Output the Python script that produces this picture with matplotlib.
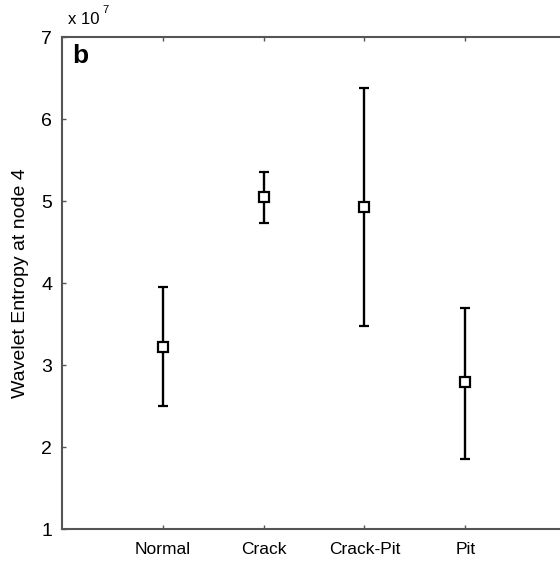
import matplotlib
matplotlib.use('Agg')
import matplotlib.pyplot as plt

plt.rcParams['font.family'] = ['Liberation Sans', 'DejaVu Sans']

# Дані (значення в одиницях 1e7)
categories = ['Normal', 'Crack', 'Crack-Pit', 'Pit']
mean_vals = [3.22, 5.05, 4.93, 2.79]
upper_vals = [3.95, 5.35, 6.38, 3.70]
lower_vals = [2.50, 4.73, 3.48, 1.85]
y_ticks = [1, 2, 3, 4, 5, 6, 7]

x_pos = list(range(1, len(categories) + 1))
err_low = [m - l for m, l in zip(mean_vals, lower_vals)]
err_high = [u - m for m, u in zip(mean_vals, upper_vals)]

fig = plt.figure(figsize=(5.6, 5.64), dpi=100)
# права межа осей виходить за край полотна, як у обрізаному оригіналі
ax = fig.add_axes([62/560, 35/564, 504/560, 492/564])

ax.errorbar(x_pos, mean_vals, yerr=[err_low, err_high], fmt='s',
            color='black', ecolor='black', elinewidth=1.7, capsize=3.5,
            capthick=1.7, markersize=7.5, markerfacecolor='white',
            markeredgecolor='black', markeredgewidth=1.6)

ax.set_xlim(0, 5)
ax.set_ylim(1, 7)
ax.set_xticks(x_pos)
ax.set_xticklabels(categories, fontsize=12.5)
ax.set_yticks(y_ticks)
ax.set_yticklabels([str(t) for t in y_ticks], fontsize=14)
ax.tick_params(direction='in', length=3, width=1, color='#555555',
               top=True, right=True, pad=7)
ax.tick_params(axis='x', pad=9)

for s in ax.spines.values():
    s.set_color('#555555')
    s.set_linewidth(1.5)

ax.set_ylabel('Wavelet Entropy at node 4', fontsize=14, labelpad=9)

ax.text(0.02, 0.985, 'b', transform=ax.transAxes, fontsize=19,
        fontweight='bold', va='top', ha='left')

# множник осі y
fig.text(68/560, 1 - 24/564, 'x 10', fontsize=12, va='baseline', ha='left')
fig.text(102/560, 1 - 13/564, '7', fontsize=8, va='baseline', ha='left')

plt.savefig('out.png', dpi=100)
